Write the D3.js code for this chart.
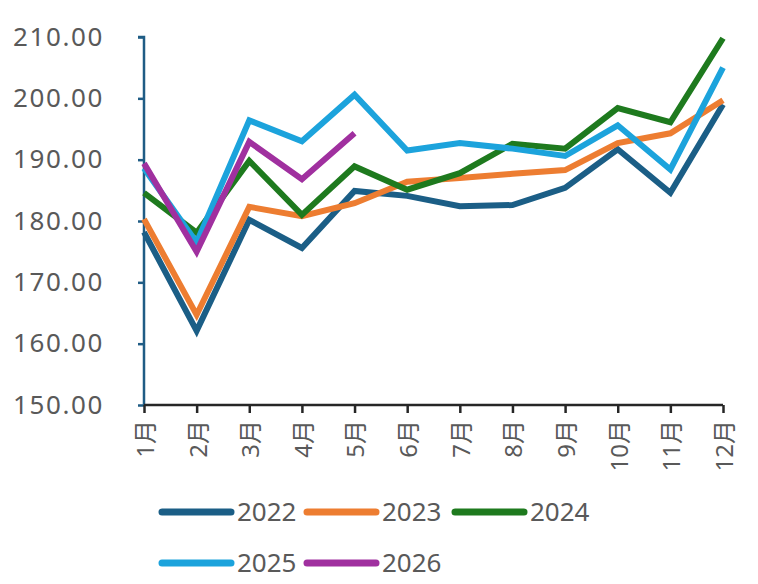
<!DOCTYPE html>
<html lang="zh">
<head>
<meta charset="UTF-8">
<title>月度走势</title>
<script src="https://d3js.org/d3.v7.min.js"></script>
<style>
  html, body { margin: 0; padding: 0; background: #fff; }
  svg { display: block; }
  text { font-family: "Noto Sans", "Noto Sans CJK SC", sans-serif; fill: #595959; }
</style>
</head>
<body>
<div id="chart"></div>
<script>
const months = ["1月", "2月", "3月", "4月", "5月", "6月", "7月", "8月", "9月", "10月", "11月", "12月"];
const years = ["2022", "2023", "2024", "2025", "2026"];
const colors = ["#1b5e86", "#ed7d31", "#1e7a1e", "#1ca3dc", "#a0309f"];

const v2022 = [178.2, 162.1, 180.2, 175.6, 184.9, 184.1, 182.4, 182.6, 185.4, 191.7, 184.6, 199.0];
const v2023 = [180.3, 164.7, 182.3, 180.8, 182.9, 186.4, 187.0, 187.7, 188.3, 192.7, 194.3, 199.7];
const v2024 = [184.6, 178.1, 189.8, 181.0, 188.9, 185.1, 187.8, 192.6, 191.8, 198.4, 196.1, 209.8];
const v2025 = [188.6, 176.5, 196.4, 193.0, 200.6, 191.5, 192.7, 191.8, 190.6, 195.6, 188.4, 205.0];
const v2026 = [189.4, 175.0, 192.9, 186.8, 194.3];
const series = [v2022, v2023, v2024, v2025, v2026];

const yTicks = [150, 160, 170, 180, 190, 200, 210];

const width = 758, height = 584;
const margin = { left: 144, right: 35, top: 37, bottom: 179 };

const svg = d3.select("#chart").append("svg")
  .attr("width", width)
  .attr("height", height)
  .attr("viewBox", [0, 0, width, height]);

const x = d3.scalePoint()
  .domain(months)
  .range([margin.left, width - margin.right]);

const y = d3.scaleLinear()
  .domain([150, 210])
  .range([height - margin.bottom, margin.top]);

// y axis
const yAxis = svg.append("g")
  .attr("transform", `translate(${margin.left},0)`)
  .call(d3.axisLeft(y).tickValues(yTicks).tickSize(6).tickPadding(34)
    .tickFormat(d3.format(".2f")));
yAxis.select(".domain").attr("stroke", "#1f5c85").attr("stroke-width", 2.5)
  .attr("d", `M-6,${y(210)}H0V${y(150)}`);
yAxis.selectAll(".tick line").attr("stroke", "#1f5c85").attr("stroke-width", 2.5);
yAxis.selectAll(".tick text")
  .style("font-size", "26px")
  .style("letter-spacing", "1.6px")
  .attr("fill", "#595959");

// x axis
const xAxis = svg.append("g")
  .attr("transform", `translate(0,${height - margin.bottom})`)
  .call(d3.axisBottom(x).tickSize(8).tickSizeOuter(0));
xAxis.select(".domain").attr("stroke", "#262626").attr("stroke-width", 2.5)
  .attr("d", `M${margin.left},0H${width - margin.right}`);
xAxis.selectAll(".tick line").attr("stroke", "#262626").attr("stroke-width", 2.5);
xAxis.selectAll(".tick text")
  .style("font-size", "24px")
  .attr("fill", "#595959")
  .attr("text-anchor", "end")
  .attr("dy", "0.35em")
  .attr("transform", "translate(1,15) rotate(-90)")
  .attr("x", 0)
  .attr("y", 0);

// lines
const line = d3.line()
  .x((d, i) => x(months[i]))
  .y(d => y(d));

svg.append("g")
  .selectAll("path")
  .data(series)
  .join("path")
  .attr("fill", "none")
  .attr("stroke", (d, i) => colors[i])
  .attr("stroke-width", 6)
  .attr("stroke-linejoin", "miter")
  .attr("d", line);

// legend
const legendPos = [
  { x: 160, y: 512 }, { x: 305, y: 512 }, { x: 453, y: 512 },
  { x: 160, y: 563 }, { x: 305, y: 563 }
];
const legend = svg.append("g")
  .selectAll("g")
  .data(years)
  .join("g")
  .attr("transform", (d, i) => `translate(${legendPos[i].x},${legendPos[i].y})`);
legend.append("line")
  .attr("x1", 2).attr("x2", 71)
  .attr("stroke", (d, i) => colors[i])
  .attr("stroke-width", 7)
  .attr("stroke-linecap", "round");
legend.append("text")
  .attr("x", 77)
  .attr("dy", "0.36em")
  .style("font-size", "26px")
  .text(d => d);
</script>
</body>
</html>
